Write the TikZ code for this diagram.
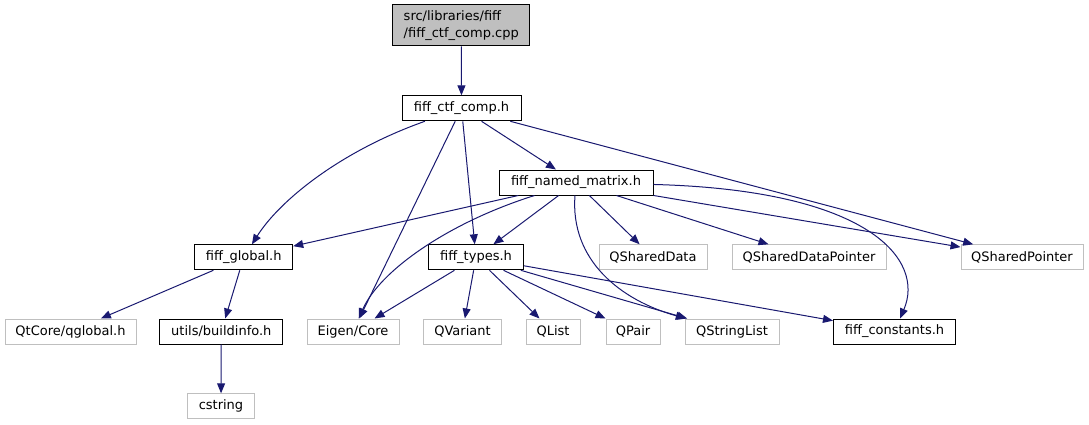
\documentclass[tikz,border=0pt]{standalone}
\usepackage{fontspec}
\setmainfont{DejaVu Sans}
\usepackage{xcolor}
\usepackage{tikz}
\usetikzlibrary{arrows.meta}

\definecolor{edgeblue}{HTML}{191970}
\definecolor{boxgray}{HTML}{BFBFBF}

\begin{document}
\begin{tikzpicture}[x=1pt,y=-1pt,font=\fontsize{13}{16.5}\selectfont,
  hdr/.style={draw=black,line width=1pt,inner sep=0pt,minimum height=25pt},
  sys/.style={draw=boxgray,line width=1pt,inner sep=0pt,minimum height=25pt},
  dep/.style={edgeblue,line width=1pt,-{Triangle[length=10pt,width=8pt]}}]
\useasboundingbox (0,0) rectangle (1089,425);

% files of the project
\node[hdr,fill=boxgray,minimum width=137pt,minimum height=41pt,align=left] (cpp) at (461.3,25.5) {src/libraries/fiff\\/fiff\_ctf\_comp.cpp};
\node[hdr,minimum width=119pt] (ctf) at (461.5,108.3) {fiff\_ctf\_comp.h};
\node[hdr,minimum width=154pt] (nm) at (576,182.5) {fiff\_named\_matrix.h};
\node[hdr,minimum width=98pt] (glob) at (243.7,257.3) {fiff\_global.h};
\node[hdr,minimum width=95pt] (types) at (476,257.3) {fiff\_types.h};
\node[hdr,minimum width=123pt] (bi) at (221.3,331.5) {utils/buildinfo.h};
\node[hdr,minimum width=122pt] (fc) at (894.5,331.5) {fiff\_constants.h};

% system headers
\node[sys,minimum width=108pt] (qsd) at (653,257.3) {QSharedData};
\node[sys,minimum width=154pt] (qsdp) at (809,257.3) {QSharedDataPointer};
\node[sys,minimum width=122pt] (qsp) at (1022,257.3) {QSharedPointer};
\node[sys,minimum width=131pt] (qtg) at (70.5,331.5) {QtCore/qglobal.h};
\node[sys,minimum width=92pt] (eig) at (353,331.5) {Eigen/Core};
\node[sys,minimum width=78pt] (qvar) at (462.5,331.5) {QVariant};
\node[sys,minimum width=54pt] (qlist) at (553,331.5) {QList};
\node[sys,minimum width=54pt] (qpair) at (633,331.5) {QPair};
\node[sys,minimum width=94pt] (qsl) at (732,331.5) {QStringList};
\node[sys,minimum width=67pt] (cstr) at (221,406.3) {cstring};

% includes
\draw[dep] (cpp) -- (ctf);
\draw[dep] (ctf) .. controls (341,151) and (280,200) .. (glob);
\draw[dep] (ctf) -- (eig);
\draw[dep] (ctf) -- (types);
\draw[dep] (ctf) -- (nm);
\draw[dep] (ctf) -- (qsp);

\draw[dep] (nm) -- (glob);
\draw[dep] (nm) .. controls (450,222) and (380,270) .. (eig);
\draw[dep] (nm) -- (types);
\draw[dep] (nm) .. controls (570,260) and (620,300) .. (qsl);
\draw[dep] (nm) -- (qsd);
\draw[dep] (nm) -- (qsdp);
\draw[dep] (nm) -- (qsp);
\draw[dep] (nm) .. controls (870,190) and (925,260) .. (fc);

\draw[dep] (glob) -- (qtg);
\draw[dep] (glob) -- (bi);
\draw[dep] (bi) -- (cstr);

\draw[dep] (types) -- (eig);
\draw[dep] (types) -- (qvar);
\draw[dep] (types) -- (qlist);
\draw[dep] (types) -- (qpair);
\draw[dep] (types) -- (qsl);
\draw[dep] (types) -- (fc);
\end{tikzpicture}
\end{document}
